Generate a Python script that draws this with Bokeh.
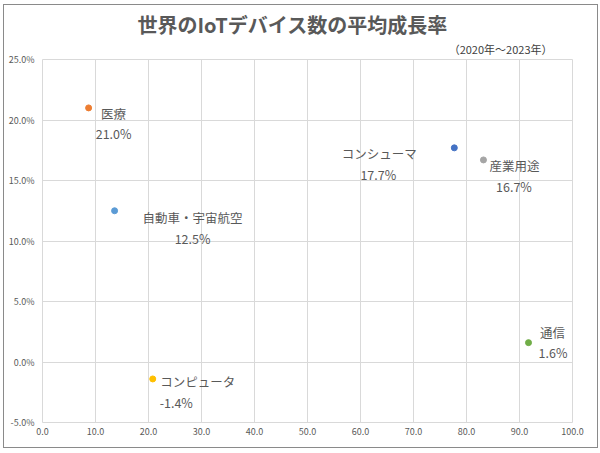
from bokeh.plotting import figure
from bokeh.models import (ColumnDataSource, Range1d, PrintfTickFormatter, FixedTicker,
                          Title, InlineStyleSheet)
from bokeh.core.properties import value
from bokeh.embed import file_html
from bokeh.resources import INLINE

# ---- data ----
categories = ["医療", "自動車・宇宙航空", "コンシューマ", "産業用途", "通信", "コンピュータ"]
x_vals = [8.7, 13.6, 77.7, 83.2, 91.7, 20.8]
growth = [21.0, 12.5, 17.7, 16.7, 1.6, -1.4]
colors = ["#ED7D31", "#5B9BD5", "#4472C4", "#A5A5A5", "#70AD47", "#FFC000"]
x_ticks = [0, 10, 20, 30, 40, 50, 60, 70, 80, 90, 100]
y_ticks = [-5, 0, 5, 10, 15, 20, 25]
title_text = "世界のIoTデバイス数の平均成長率"
subtitle_text = "（2020年～2023年）"

# label offsets in pixels (style/position, not data)
name_dx = [25, 78, -75, 31, 24, 45]
name_dy = [6, 6.5, 6, 5.5, -10, 3]
val_dx = [25, 78, -76, 30.5, 24.5, 23.5]
val_dy = [26, 28, 27, 27, 10, 24]

JP = "Noto Sans CJK JP"
TXT = "#595959"
GRID = "#D9D9D9"

src = ColumnDataSource(dict(
    x=x_vals, y=growth, c=colors, name=categories,
    val=[f"{v:.1f}%" for v in growth],
    ndx=name_dx, ndy=name_dy, vdx=val_dx, vdy=val_dy,
))

p = figure(width=600, height=451, output_backend="svg", toolbar_location=None,
           x_range=Range1d(0, 100), y_range=Range1d(-5, 25),
           min_border_left=42, min_border_right=28, min_border_top=59, min_border_bottom=29)
p.stylesheets = [InlineStyleSheet(css=(
    ":host { position: relative; }"
    ":host::after { content: ''; position: absolute; left: 3px; top: 4px;"
    " width: 593px; height: 442px; border: 1px solid #8a8a8a;"
    " pointer-events: none; z-index: 1000; }"
))]
p.background_fill_color = "white"
p.border_fill_color = "white"
p.outline_line_color = GRID
p.outline_line_width = 1

for ax in (p.xaxis[0], p.yaxis[0]):
    ax.axis_line_color = None
    ax.major_tick_line_color = None
    ax.minor_tick_line_color = None
    ax.major_tick_out = 0
    ax.major_tick_in = 0
    ax.minor_tick_out = 0
    ax.major_label_text_font = JP
    ax.major_label_text_font_size = "9px"
    ax.major_label_text_color = TXT
p.xaxis[0].ticker = FixedTicker(ticks=x_ticks)
p.yaxis[0].ticker = FixedTicker(ticks=y_ticks)
p.xaxis[0].formatter = PrintfTickFormatter(format="%.1f")
p.yaxis[0].formatter = PrintfTickFormatter(format="%.1f%%")
p.xaxis[0].major_label_standoff = 5
p.yaxis[0].major_label_standoff = 8

p.xgrid.grid_line_color = GRID
p.ygrid.grid_line_color = GRID

p.scatter("x", "y", source=src, size=6, fill_color="c", line_color="c")

p.text("x", "y", text="name", source=src, x_offset="ndx", y_offset="ndy",
       text_font=value(JP), text_font_size="12.5px", text_color=TXT,
       text_align="center", text_baseline="middle")
p.text("x", "y", text="val", source=src, x_offset="vdx", y_offset="vdy",
       text_font=value(JP), text_font_size="12.5px", text_color=TXT,
       text_align="center", text_baseline="middle")

p.add_layout(Title(text=subtitle_text, text_font=JP, text_font_size="11px",
                   text_font_style="normal", text_color="#404040",
                   align="right", offset=20, standoff=5), "above")
p.add_layout(Title(text=title_text, text_font=JP, text_font_size="20px",
                   text_font_style="bold", text_color=TXT,
                   align="left", offset=95, standoff=-5), "above")

open("out.html", "w").write(file_html(p, INLINE))
